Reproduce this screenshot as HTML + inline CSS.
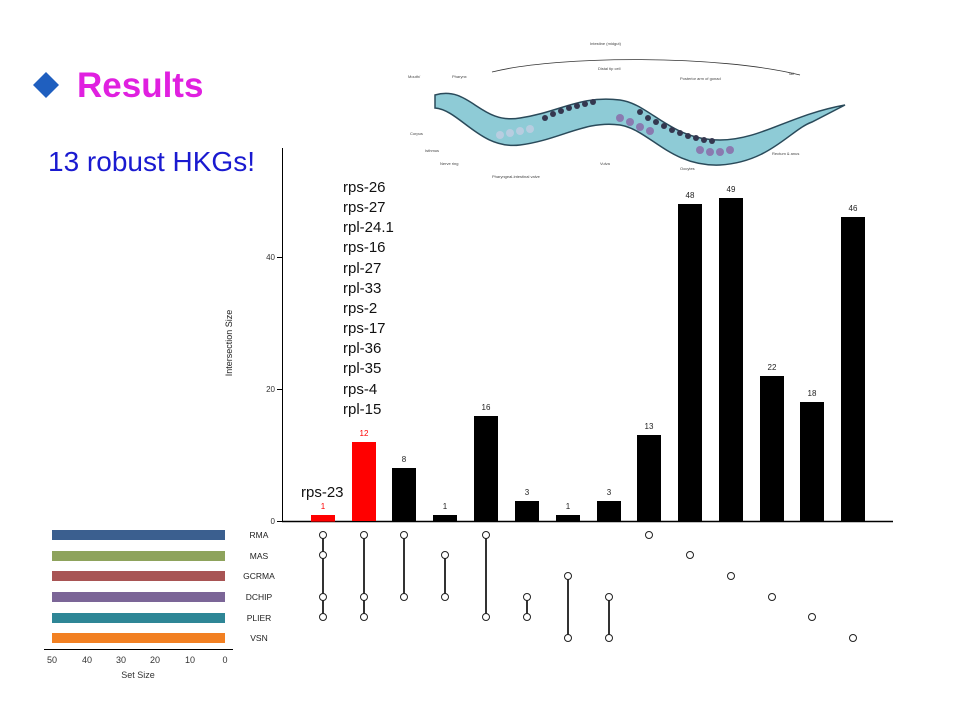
<!DOCTYPE html>
<html><head><style>
body{margin:0;background:#fff;}
svg{display:block;font-family:"Liberation Sans",Arial,sans-serif;}
</style></head><body>
<svg width="960" height="720" viewBox="0 0 960 720" xmlns="http://www.w3.org/2000/svg">
<rect width="960" height="720" fill="#fff"/>
<polygon points="46,72 59,85 46,98 33,85" fill="#1f5fbf"/>
<text x="77" y="97" font-size="35" font-weight="bold" fill="#e020e0">Results</text>
<text x="48" y="171" font-size="28" fill="#1a1ad0">13 robust HKGs!</text>
<g>
<path d="M435,95 C470,85 480,125 520,118 C560,112 580,95 620,100 C650,104 670,140 720,140 C760,140 790,115 845,105 L812,122 C790,130 770,162 720,165 C670,167 650,130 620,125 C585,120 560,140 520,145 C480,150 460,110 435,108 Z" fill="#8ecbd6" stroke="#2a4a5a" stroke-width="1.5"/>
<g fill="#34374f">
<circle cx="545" cy="118" r="3"/><circle cx="553" cy="114" r="3"/><circle cx="561" cy="111" r="3"/><circle cx="569" cy="108" r="3"/><circle cx="577" cy="106" r="3"/><circle cx="585" cy="104" r="3"/><circle cx="593" cy="102" r="3"/>
<circle cx="640" cy="112" r="3"/><circle cx="648" cy="118" r="3"/><circle cx="656" cy="122" r="3"/><circle cx="664" cy="126" r="3"/><circle cx="672" cy="130" r="3"/><circle cx="680" cy="133" r="3"/><circle cx="688" cy="136" r="3"/><circle cx="696" cy="138" r="3"/><circle cx="704" cy="140" r="3"/><circle cx="712" cy="141" r="3"/>
</g>
<g fill="#8a7ab0">
<circle cx="620" cy="118" r="4"/><circle cx="630" cy="122" r="4"/><circle cx="640" cy="127" r="4"/><circle cx="650" cy="131" r="4"/><circle cx="700" cy="150" r="4"/><circle cx="710" cy="152" r="4"/><circle cx="720" cy="152" r="4"/><circle cx="730" cy="150" r="4"/>
</g>
<g fill="#b8cde0"><circle cx="500" cy="135" r="4"/><circle cx="510" cy="133" r="4"/><circle cx="520" cy="131" r="4"/><circle cx="530" cy="129" r="4"/></g>
<path d="M492,72 C560,55 720,55 800,75" fill="none" stroke="#333" stroke-width="0.8"/>
<g font-size="4" fill="#444">
<text x="590" y="45">Intestine (midgut)</text><text x="408" y="78">Mouth/</text><text x="452" y="78">Pharynx</text><text x="410" y="135">Corpus</text><text x="425" y="152">Isthmus</text><text x="440" y="165">Nerve ring</text><text x="492" y="178">Pharyngeal-intestinal valve</text><text x="598" y="70">Distal tip cell</text><text x="680" y="80">Posterior arm of gonad</text><text x="788" y="75">Tail</text><text x="772" y="155">Rectum &amp; anus</text><text x="680" y="170">Oocytes</text><text x="600" y="165">Vulva</text>
</g>
</g>
<line x1="282.5" y1="148" x2="282.5" y2="521" stroke="#000" stroke-width="1"/>
<line x1="282" y1="521.5" x2="893" y2="521.5" stroke="#000" stroke-width="1.5"/>
<g font-size="8" fill="#333" text-anchor="end">
<text x="275" y="524">0</text><text x="275" y="392">20</text><text x="275" y="260">40</text>
</g>
<line x1="277" y1="521.5" x2="282" y2="521.5" stroke="#000"/><line x1="277" y1="389.5" x2="282" y2="389.5" stroke="#000"/><line x1="277" y1="257.5" x2="282" y2="257.5" stroke="#000"/>
<text transform="translate(232,343) rotate(-90)" font-size="9" fill="#222" text-anchor="middle">Intersection Size</text>
<g>
<rect x="311" y="515" width="24" height="6.6" fill="#f00"/>
<rect x="352" y="442" width="24" height="79" fill="#f00"/>
<rect x="392" y="468" width="24" height="53" fill="#000"/>
<rect x="433" y="515" width="24" height="6.6" fill="#000"/>
<rect x="474" y="416" width="24" height="105" fill="#000"/>
<rect x="515" y="501" width="24" height="20" fill="#000"/>
<rect x="556" y="515" width="24" height="6.6" fill="#000"/>
<rect x="597" y="501" width="24" height="20" fill="#000"/>
<rect x="637" y="435" width="24" height="86" fill="#000"/>
<rect x="678" y="204" width="24" height="317" fill="#000"/>
<rect x="719" y="198" width="24" height="323" fill="#000"/>
<rect x="760" y="376" width="24" height="145" fill="#000"/>
<rect x="800" y="402" width="24" height="119" fill="#000"/>
<rect x="841" y="217" width="24" height="304" fill="#000"/>
</g>
<g font-size="8" text-anchor="middle" fill="#222">
<text x="323" y="509" fill="#f00">1</text><text x="364" y="436" fill="#f00">12</text><text x="404" y="462">8</text><text x="445" y="509">1</text><text x="486" y="410">16</text><text x="527" y="495">3</text><text x="568" y="509">1</text><text x="609" y="495">3</text><text x="649" y="429">13</text><text x="690" y="198">48</text><text x="731" y="192">49</text><text x="772" y="370">22</text><text x="812" y="396">18</text><text x="853" y="211">46</text>
</g>
<g font-size="15" fill="#111">
<text x="343" y="192">rps-26</text><text x="343" y="212">rps-27</text><text x="343" y="232">rpl-24.1</text><text x="343" y="252">rps-16</text><text x="343" y="273">rpl-27</text><text x="343" y="293">rpl-33</text><text x="343" y="313">rps-2</text><text x="343" y="333">rps-17</text><text x="343" y="353">rpl-36</text><text x="343" y="373">rpl-35</text><text x="343" y="394">rps-4</text><text x="343" y="414">rpl-15</text>
<text x="301" y="497">rps-23</text>
</g>
<rect x="52" y="530" width="173" height="10" fill="#3b5f8f"/>
<rect x="52" y="551" width="173" height="10" fill="#8ea35c"/>
<rect x="52" y="571" width="173" height="10" fill="#a85454"/>
<rect x="52" y="592" width="173" height="10" fill="#7b6597"/>
<rect x="52" y="613" width="173" height="10" fill="#2e8696"/>
<rect x="52" y="633" width="173" height="10" fill="#f28022"/>
<line x1="44" y1="649.5" x2="233" y2="649.5" stroke="#000"/>
<g font-size="9" fill="#333" text-anchor="middle">
<text x="52" y="663">50</text><text x="87" y="663">40</text><text x="121" y="663">30</text><text x="155" y="663">20</text><text x="190" y="663">10</text><text x="225" y="663">0</text>
<text x="138" y="678">Set Size</text>
</g>
<g font-size="8.5" fill="#222" text-anchor="middle">
<text x="259" y="538">RMA</text><text x="259" y="559">MAS</text><text x="259" y="579">GCRMA</text><text x="259" y="600">DCHIP</text><text x="259" y="621">PLIER</text><text x="259" y="641">VSN</text>
</g>
<g stroke="#333" stroke-width="2">
<line x1="323" y1="535" x2="323" y2="617"/><line x1="364" y1="535" x2="364" y2="617"/><line x1="404" y1="535" x2="404" y2="597"/><line x1="445" y1="555" x2="445" y2="597"/><line x1="486" y1="535" x2="486" y2="617"/><line x1="527" y1="597" x2="527" y2="617"/><line x1="568" y1="576" x2="568" y2="638"/><line x1="609" y1="597" x2="609" y2="638"/>
</g>
<g fill="#fff" stroke="#222" stroke-width="1">
<circle cx="323" cy="535" r="3.5"/><circle cx="323" cy="555" r="3.5"/><circle cx="323" cy="597" r="3.5"/><circle cx="323" cy="617" r="3.5"/>
<circle cx="364" cy="535" r="3.5"/><circle cx="364" cy="597" r="3.5"/><circle cx="364" cy="617" r="3.5"/>
<circle cx="404" cy="535" r="3.5"/><circle cx="404" cy="597" r="3.5"/>
<circle cx="445" cy="555" r="3.5"/><circle cx="445" cy="597" r="3.5"/>
<circle cx="486" cy="535" r="3.5"/><circle cx="486" cy="617" r="3.5"/>
<circle cx="527" cy="597" r="3.5"/><circle cx="527" cy="617" r="3.5"/>
<circle cx="568" cy="576" r="3.5"/><circle cx="568" cy="638" r="3.5"/>
<circle cx="609" cy="597" r="3.5"/><circle cx="609" cy="638" r="3.5"/>
<circle cx="649" cy="535" r="3.5"/><circle cx="690" cy="555" r="3.5"/><circle cx="731" cy="576" r="3.5"/><circle cx="772" cy="597" r="3.5"/><circle cx="812" cy="617" r="3.5"/><circle cx="853" cy="638" r="3.5"/>
</g>
</svg>
</body></html>
